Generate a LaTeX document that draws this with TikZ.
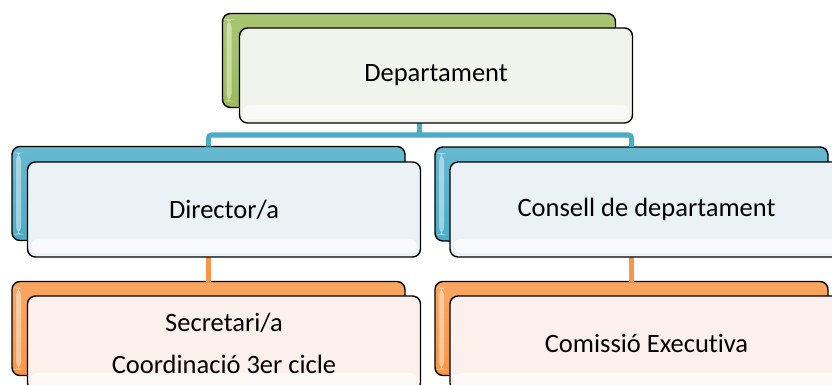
\documentclass[tikz,border=0pt]{standalone}
\usepackage{fontspec}
\setmainfont{Carlito}[Ligatures=NoCommon]
\definecolor{ogreen}{HTML}{9BBB59}
\definecolor{oblue}{HTML}{4BACC6}
\definecolor{oorange}{HTML}{F79646}
\definecolor{fgreen}{HTML}{F1F4EC}
\definecolor{fblue}{HTML}{EBF2F6}
\definecolor{forange}{HTML}{FBF0EB}
\begin{document}
\begin{tikzpicture}[x=1pt,y=-1pt,
  boxbase/.style={draw=black,line width=1.4pt,rounded corners=8pt,inner sep=0pt,outer sep=0pt},
  backbox/.style={boxbase,minimum width=393pt,minimum height=94pt,
    top color=#1!85!white,bottom color=#1,
    path picture={\fill[white,opacity=0.45]
      ([xshift=4pt,yshift=-6pt]path picture bounding box.north west) rectangle
      ([xshift=9pt,yshift=6pt]path picture bounding box.south west);}},
  frontbox/.style={boxbase,minimum width=393pt,minimum height=95pt,fill=#1,
    font=\fontsize{26.5}{42}\selectfont,align=center,
    path picture={\fill[white,opacity=0.6,rounded corners=6pt]
      ([xshift=4pt,yshift=4pt]path picture bounding box.south west) rectangle
      ([xshift=-4pt,yshift=18pt]path picture bounding box.south east);}},
  conn/.style={line width=5pt,draw=#1,rounded corners=3pt}]
\useasboundingbox (0,0) rectangle (832,385);
\fill[white] (0,0) rectangle (832,385);
% back boxes
\node[backbox=ogreen] (depB) at (419,60.5) {};
\node[backbox=oblue] (dirB) at (208.5,193.5) {};
\node[backbox=oblue] (conB) at (631.5,194) {};
\node[backbox=oorange] (secB) at (208.5,328.5) {};
\node[backbox=oorange] (comB) at (631.5,328.5) {};
% connectors
\coordinate (bus) at (419,135);
\draw[conn=oblue] (depB.south) -- (bus);
\draw[conn=oblue] (dirB.north) |- (bus) -| (conB.north);
\draw[conn=oorange] (dirB.south) -- (secB.north);
\draw[conn=oorange] (conB.south) -- (comB.north);
% front boxes
\node[frontbox=fgreen] (depF) at (436,75.5) {Departament};
\node[frontbox=fblue] (dirF) at (224,209.5) {Director/a};
\node[frontbox=fblue] (conF) at (646.5,209.5) {Consell de departament};
\node[frontbox=forange] (secF) at (224,343.5) {Secretari/a\\Coordinació 3er cicle};
\node[frontbox=forange] (comF) at (646.5,343.5) {Comissió Executiva};
\end{tikzpicture}
\end{document}
